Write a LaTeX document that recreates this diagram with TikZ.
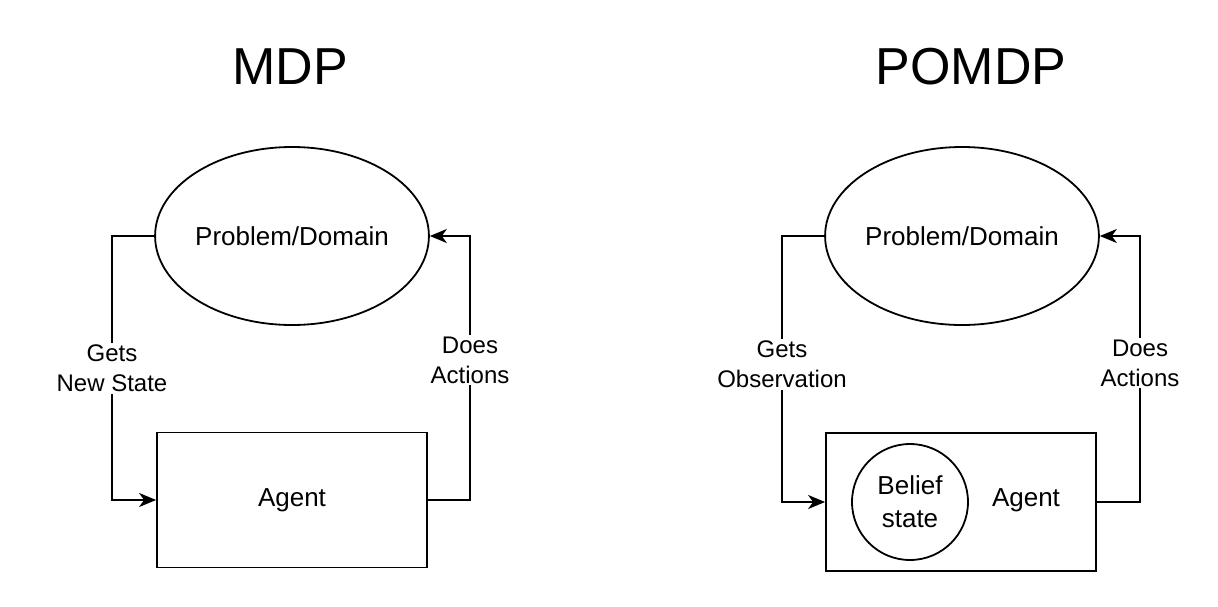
\documentclass[tikz,border=0pt]{standalone}
\usepackage{fontspec}
\setmainfont{Liberation Sans}
\usepackage{tikz}
\usetikzlibrary{arrows.meta}
\usetikzlibrary{positioning}
\usetikzlibrary{shapes.geometric}
\begin{document}
\begin{tikzpicture}[x=1pt,y=-1pt,->,>={Stealth[length=17pt,width=14pt,inset=5pt]},line width=1.8pt,
    title node/.style={anchor=base,font=\fontsize{52}{60}\selectfont},
    domain node/.style={ellipse,draw,minimum width=269pt,minimum height=178pt,inner sep=0pt,font=\fontsize{26}{31}\selectfont},
    agent node/.style={rectangle,draw,minimum width=270pt,minimum height=135pt,inner sep=0pt,font=\fontsize{26}{31}\selectfont},
    edge label/.style={fill=white,align=center,inner sep=2pt,font=\fontsize{24}{30}\selectfont}]
      \useasboundingbox (0,0) rectangle (1218,606);

      % MDP
      \node [title node] (mdp) at (290,84) {MDP};
      \node [domain node] (prob1) at (292,236) {Problem/Domain};
      \node [agent node] (agent1) at (292,500) {Agent};
      \coordinate (get1) at (112,368);
      \coordinate (do1) at (470,360);

      \draw (prob1.west) -| (get1) node [edge label] (getlbl1) {Gets\\New State} |- (agent1.west);
      \draw (agent1.east) -| (do1) node [edge label] (dolbl1) {Does\\Actions} |- (prob1.east);

      % POMDP
      \node [title node] (pomdp) at (971,84) {POMDP};
      \node [domain node] (prob2) at (962,236) {Problem/Domain};
      \node [agent node,minimum height=138pt] (agent2) at (961,502) {};
      \node [circle,draw,minimum size=116pt,inner sep=0pt,align=center,font=\fontsize{26}{33}\selectfont] (belief) at (910,502) {Belief\\state};
      \node [font=\fontsize{26}{31}\selectfont] (agentlbl2) at (1026,500) {Agent};
      \coordinate (get2) at (782,364);
      \coordinate (do2) at (1140,363);

      \draw (prob2.west) -| (get2) node [edge label] (getlbl2) {Gets\\Observation} |- (agent2.west);
      \draw (agent2.east) -| (do2) node [edge label] (dolbl2) {Does\\Actions} |- (prob2.east);
    \end{tikzpicture}
\end{document}
